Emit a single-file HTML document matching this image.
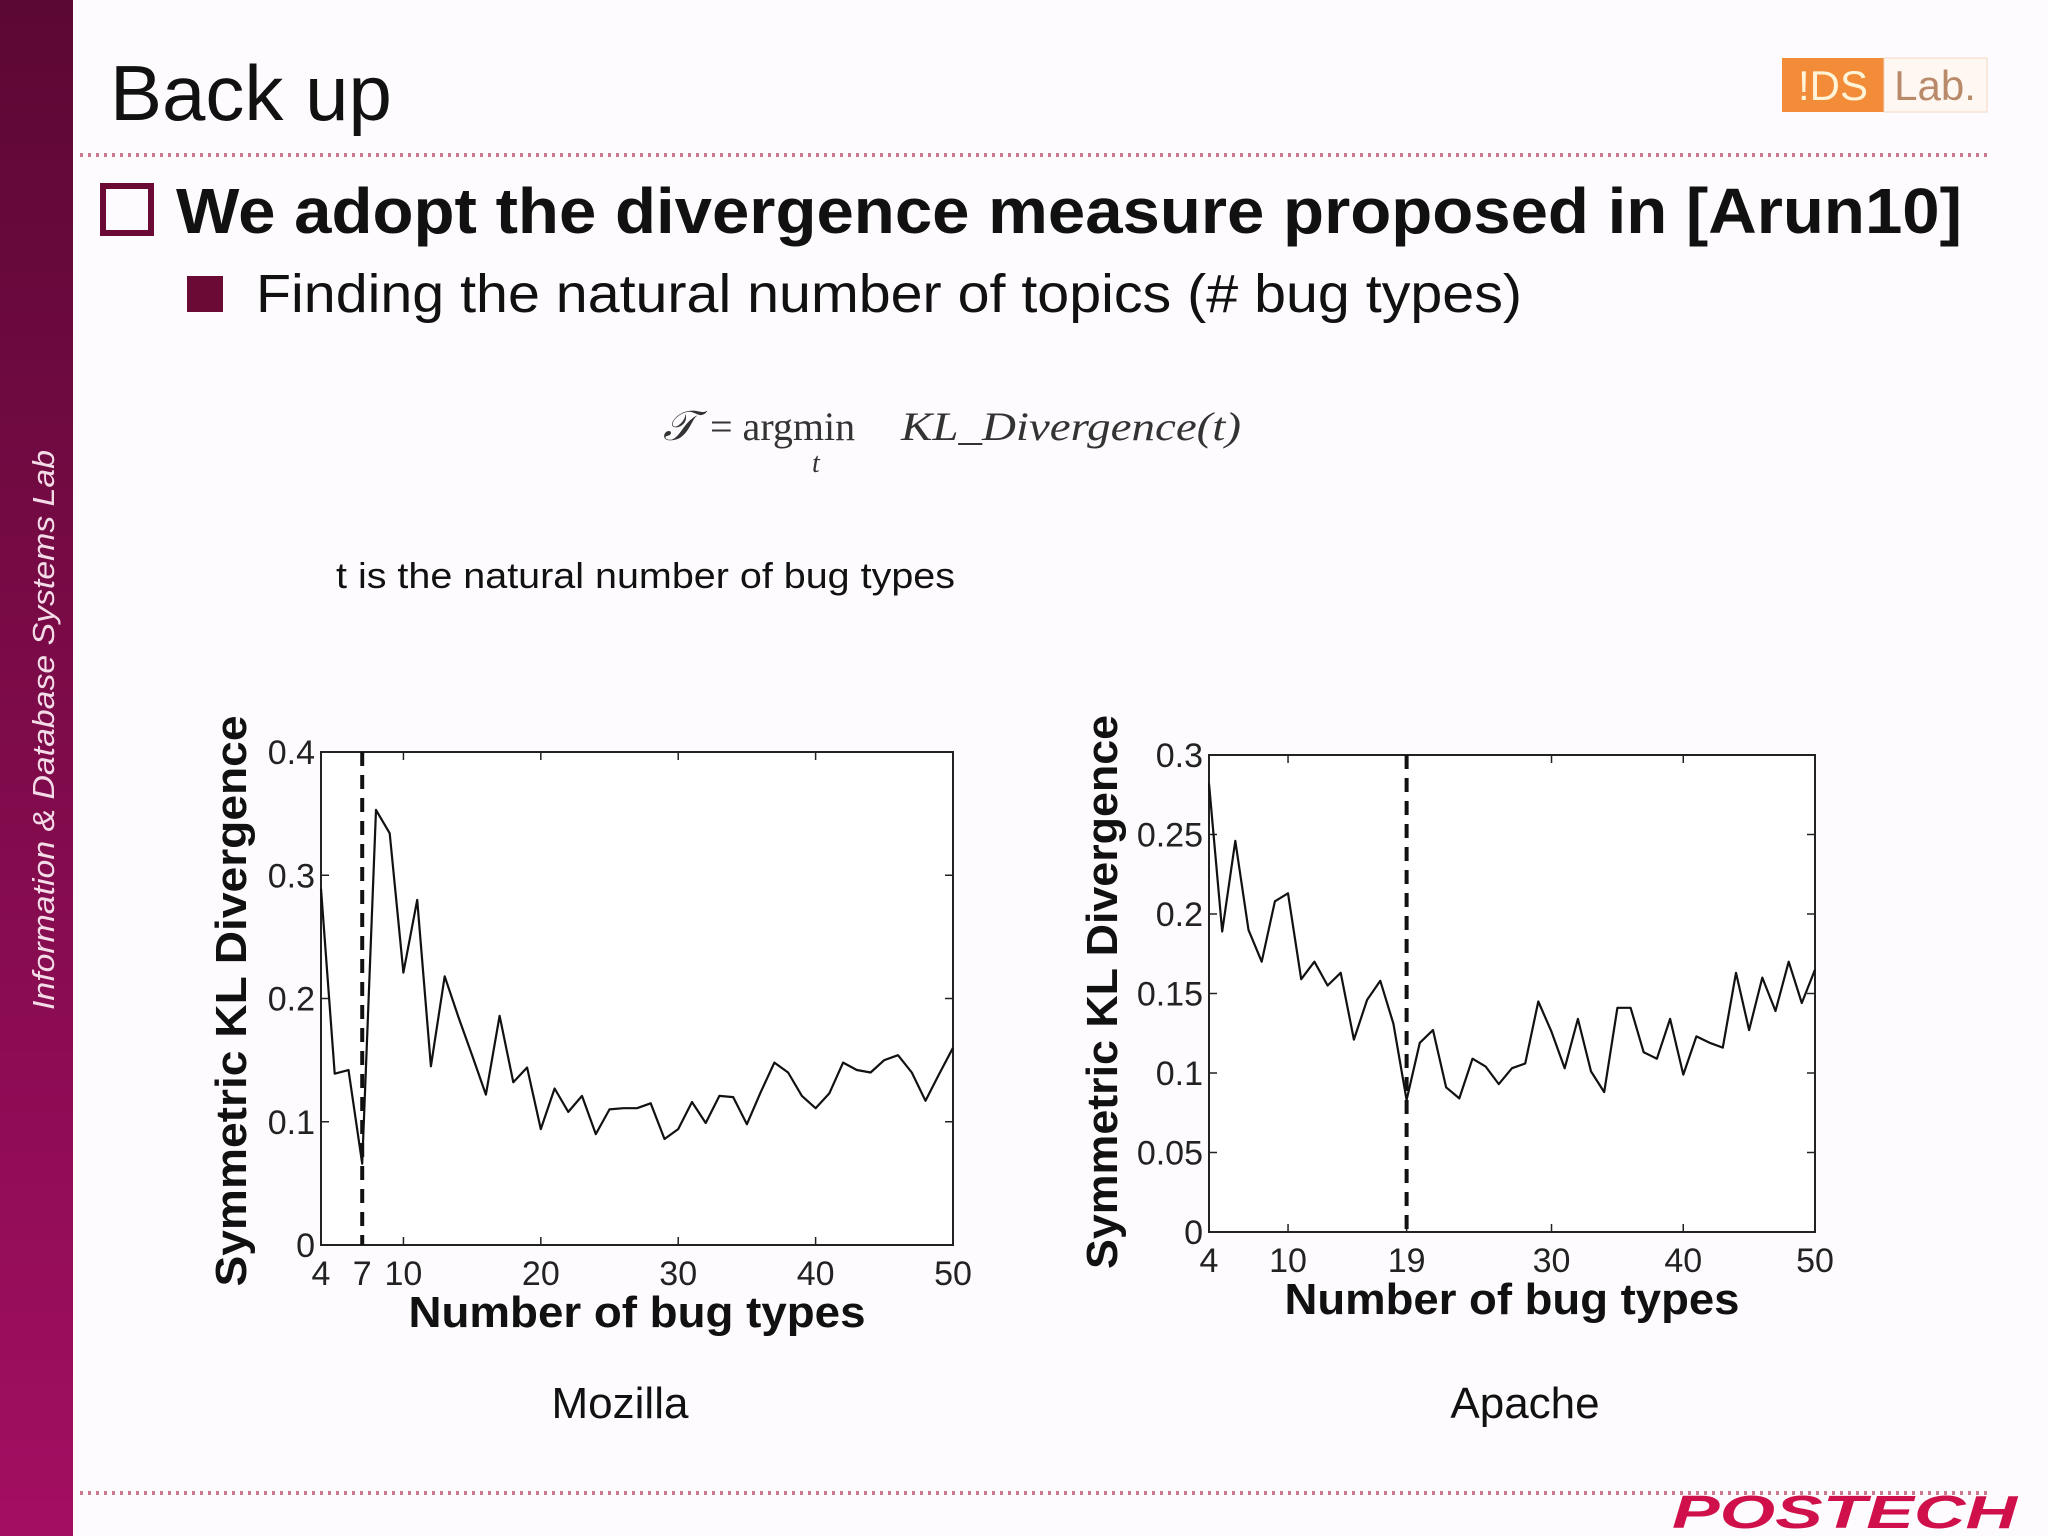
<!DOCTYPE html>
<html><head><meta charset="utf-8"><style>
html,body{margin:0;padding:0;background:#fdfbfd;}
body{width:2048px;height:1536px;position:relative;overflow:hidden;font-family:"Liberation Sans",sans-serif;}
svg{position:absolute;left:0;top:0;}
</style></head><body>
<svg width="2048" height="1536" viewBox="0 0 2048 1536">
<defs><linearGradient id="sb" x1="0" y1="0" x2="0" y2="1"><stop offset="0" stop-color="#5c0834"/><stop offset="1" stop-color="#a30e62"/></linearGradient></defs>
<rect x="0" y="0" width="73" height="1536" fill="url(#sb)"/>
<text transform="translate(54,730) rotate(-90)" text-anchor="middle" font-size="31" font-style="italic" fill="#f4dbe8" textLength="560" lengthAdjust="spacingAndGlyphs">Information &amp; Database Systems Lab</text>
<text x="110" y="120" font-size="78" fill="#111">Back up</text>
<g>
<rect x="1782" y="58" width="102" height="54" fill="#f28c38"/><rect x="1884" y="58" width="103" height="54" fill="#fff8f2" stroke="#f3d8c4"/>
<text x="1833" y="100" text-anchor="middle" font-size="42" fill="#fff3d8">!DS</text><text x="1935" y="100" text-anchor="middle" font-size="42" fill="#b98a6a">Lab.</text></g>
<line x1="80" y1="155" x2="1990" y2="155" stroke="#c97a8e" stroke-width="4" stroke-dasharray="3,5"/>
<rect x="103" y="186" width="48" height="47" fill="none" stroke="#6b0a34" stroke-width="6"/>
<text x="176" y="233" font-size="64" font-weight="bold" fill="#111" textLength="1786" lengthAdjust="spacingAndGlyphs">We adopt the divergence measure proposed in [Arun10]</text>
<rect x="187" y="276" width="36" height="36" fill="#6b0a34"/>
<text x="256" y="312" font-size="54" fill="#111" textLength="1266" lengthAdjust="spacingAndGlyphs">Finding the natural number of topics (# bug types)</text>
<g font-family="Liberation Serif, serif" fill="#333">
<text x="663" y="440" font-size="42" font-style="italic">𝒯</text>
<text x="710" y="440" font-size="40">= argmin</text>
<text x="812" y="472" font-size="28" font-style="italic">t</text>
<text x="901" y="440" font-size="40" font-style="italic" textLength="340" lengthAdjust="spacingAndGlyphs">KL_Divergence(t)</text></g>
<text x="336" y="588" font-size="36" fill="#111" textLength="619" lengthAdjust="spacingAndGlyphs">t is the natural number of bug types</text>
<g id="c1"></g><g id="c2"></g>
<text x="620" y="1418" text-anchor="middle" font-size="44" fill="#111">Mozilla</text>
<text x="1525" y="1418" text-anchor="middle" font-size="44" fill="#111">Apache</text>
<line x1="80" y1="1493" x2="1990" y2="1493" stroke="#c97a8e" stroke-width="4" stroke-dasharray="3,5"/>
<text x="1672" y="1528" font-size="46" font-weight="bold" font-style="italic" fill="#d0104a" textLength="345" lengthAdjust="spacingAndGlyphs">POSTECH</text>
</svg>
<script>
const xs = [4,5,6,7,8,9,10,11,12,13,14,15,16,17,18,19,20,21,22,23,24,25,26,27,28,29,30,31,32,33,34,35,36,37,38,39,40,41,42,43,44,45,46,47,48,49,50];
const mozillaValues = [0.289,0.139,0.142,0.066,0.353,0.334,0.221,0.280,0.145,0.218,0.185,0.154,0.122,0.186,0.132,0.144,0.094,0.127,0.108,0.121,0.090,0.110,0.111,0.111,0.115,0.086,0.094,0.116,0.099,0.121,0.120,0.098,0.124,0.148,0.140,0.121,0.111,0.123,0.148,0.142,0.140,0.150,0.154,0.140,0.117,0.139,0.160];
const apacheValues = [0.282,0.189,0.246,0.190,0.170,0.208,0.213,0.159,0.170,0.155,0.163,0.121,0.146,0.158,0.131,0.083,0.119,0.127,0.091,0.084,0.109,0.104,0.093,0.103,0.106,0.145,0.126,0.103,0.134,0.101,0.088,0.141,0.141,0.113,0.109,0.134,0.099,0.123,0.119,0.116,0.163,0.127,0.160,0.139,0.170,0.144,0.165];
const mozillaXTicks = [4,7,10,20,30,40,50];
const mozillaYTicks = [0,0.1,0.2,0.3,0.4];
const mozillaYLabels = ["0","0.1","0.2","0.3","0.4"];
const apacheXTicks = [4,10,19,30,40,50];
const apacheYTicks = [0,0.05,0.1,0.15,0.2,0.25,0.3];
const apacheYLabels = ["0","0.05","0.1","0.15","0.2","0.25","0.3"];
const mozillaBest = 7;
const apacheBest = 19;
const NS="http://www.w3.org/2000/svg";
function mk(parent,tag,attrs,text){const e=document.createElementNS(NS,tag);for(const k in attrs)e.setAttribute(k,attrs[k]);if(text!==undefined)e.textContent=text;parent.appendChild(e);return e;}
function draw(gid,cfg){
  const g=document.getElementById(gid);
  
  
  const X=v=>cfg.L+(v-4)/(50-4)*(cfg.R-cfg.L);
  const Y=v=>cfg.B-v/cfg.ymax*(cfg.B-cfg.T);
  const frame=mk(g,'rect',{x:cfg.L,y:cfg.T,width:cfg.R-cfg.L,height:cfg.B-cfg.T,fill:'#fff',stroke:'#222','stroke-width':2});
  
  
  cfg.xt.forEach(t=>{
    mk(g,'line',{x1:X(t),y1:cfg.B,x2:X(t),y2:cfg.B-8,stroke:'#222','stroke-width':1.5});
    mk(g,'line',{x1:X(t),y1:cfg.T,x2:X(t),y2:cfg.T+8,stroke:'#222','stroke-width':1.5});
    const tl=mk(g,'text',{x:X(t),y:cfg.B+40,'text-anchor':'middle','font-size':34,fill:'#222'},String(t));
    
    
  });
  cfg.yt.forEach((t,i)=>{
    mk(g,'line',{x1:cfg.L,y1:Y(t),x2:cfg.L+8,y2:Y(t),stroke:'#222','stroke-width':1.5});
    mk(g,'line',{x1:cfg.R,y1:Y(t),x2:cfg.R-8,y2:Y(t),stroke:'#222','stroke-width':1.5});
    const tl=mk(g,'text',{x:cfg.L-6,y:Y(t)+12,'text-anchor':'end','font-size':34,fill:'#222'},cfg.yl[i]);
    
    
  });
  const vl=mk(g,'line',{x1:X(cfg.best),y1:cfg.T,x2:X(cfg.best),y2:cfg.B,stroke:'#111','stroke-width':4,'stroke-dasharray':'14,9'});
  
  
  const pts=xs.map((x,i)=>X(x).toFixed(1)+','+Y(cfg.vals[i]).toFixed(1)).join(' ');
  const pl=mk(g,'polyline',{points:pts,fill:'none',stroke:'#111','stroke-width':2.2,'stroke-linejoin':'round'});
  
  
  const xt=mk(g,'text',{x:(cfg.L+cfg.R)/2,y:cfg.xTitleY,'text-anchor':'middle','font-size':44,'font-weight':'bold',fill:'#111',textLength:cfg.xLen,lengthAdjust:'spacingAndGlyphs'},'Number of bug types');
  
  
  const yt=mk(g,'text',{transform:'translate('+cfg.yTitleX+','+cfg.yMid+') rotate(-90)','text-anchor':'middle','font-size':44,'font-weight':'bold',fill:'#111',textLength:cfg.yLen,lengthAdjust:'spacingAndGlyphs'},'Symmetric KL Divergence');
  
  
}
draw('c1',{name:'mozilla-chart',L:321,R:953,T:752,B:1245,ymax:0.4,vals:mozillaValues,xt:mozillaXTicks,yt:mozillaYTicks,yl:mozillaYLabels,best:mozillaBest,xTitleY:1327,yTitleX:246,xLen:457,yLen:571,yMid:1001});
draw('c2',{name:'apache-chart',L:1209,R:1815,T:755,B:1232,ymax:0.3,vals:apacheValues,xt:apacheXTicks,yt:apacheYTicks,yl:apacheYLabels,best:apacheBest,xTitleY:1314,yTitleX:1117,xLen:455,yLen:554,yMid:992});
</script>
</body></html>
